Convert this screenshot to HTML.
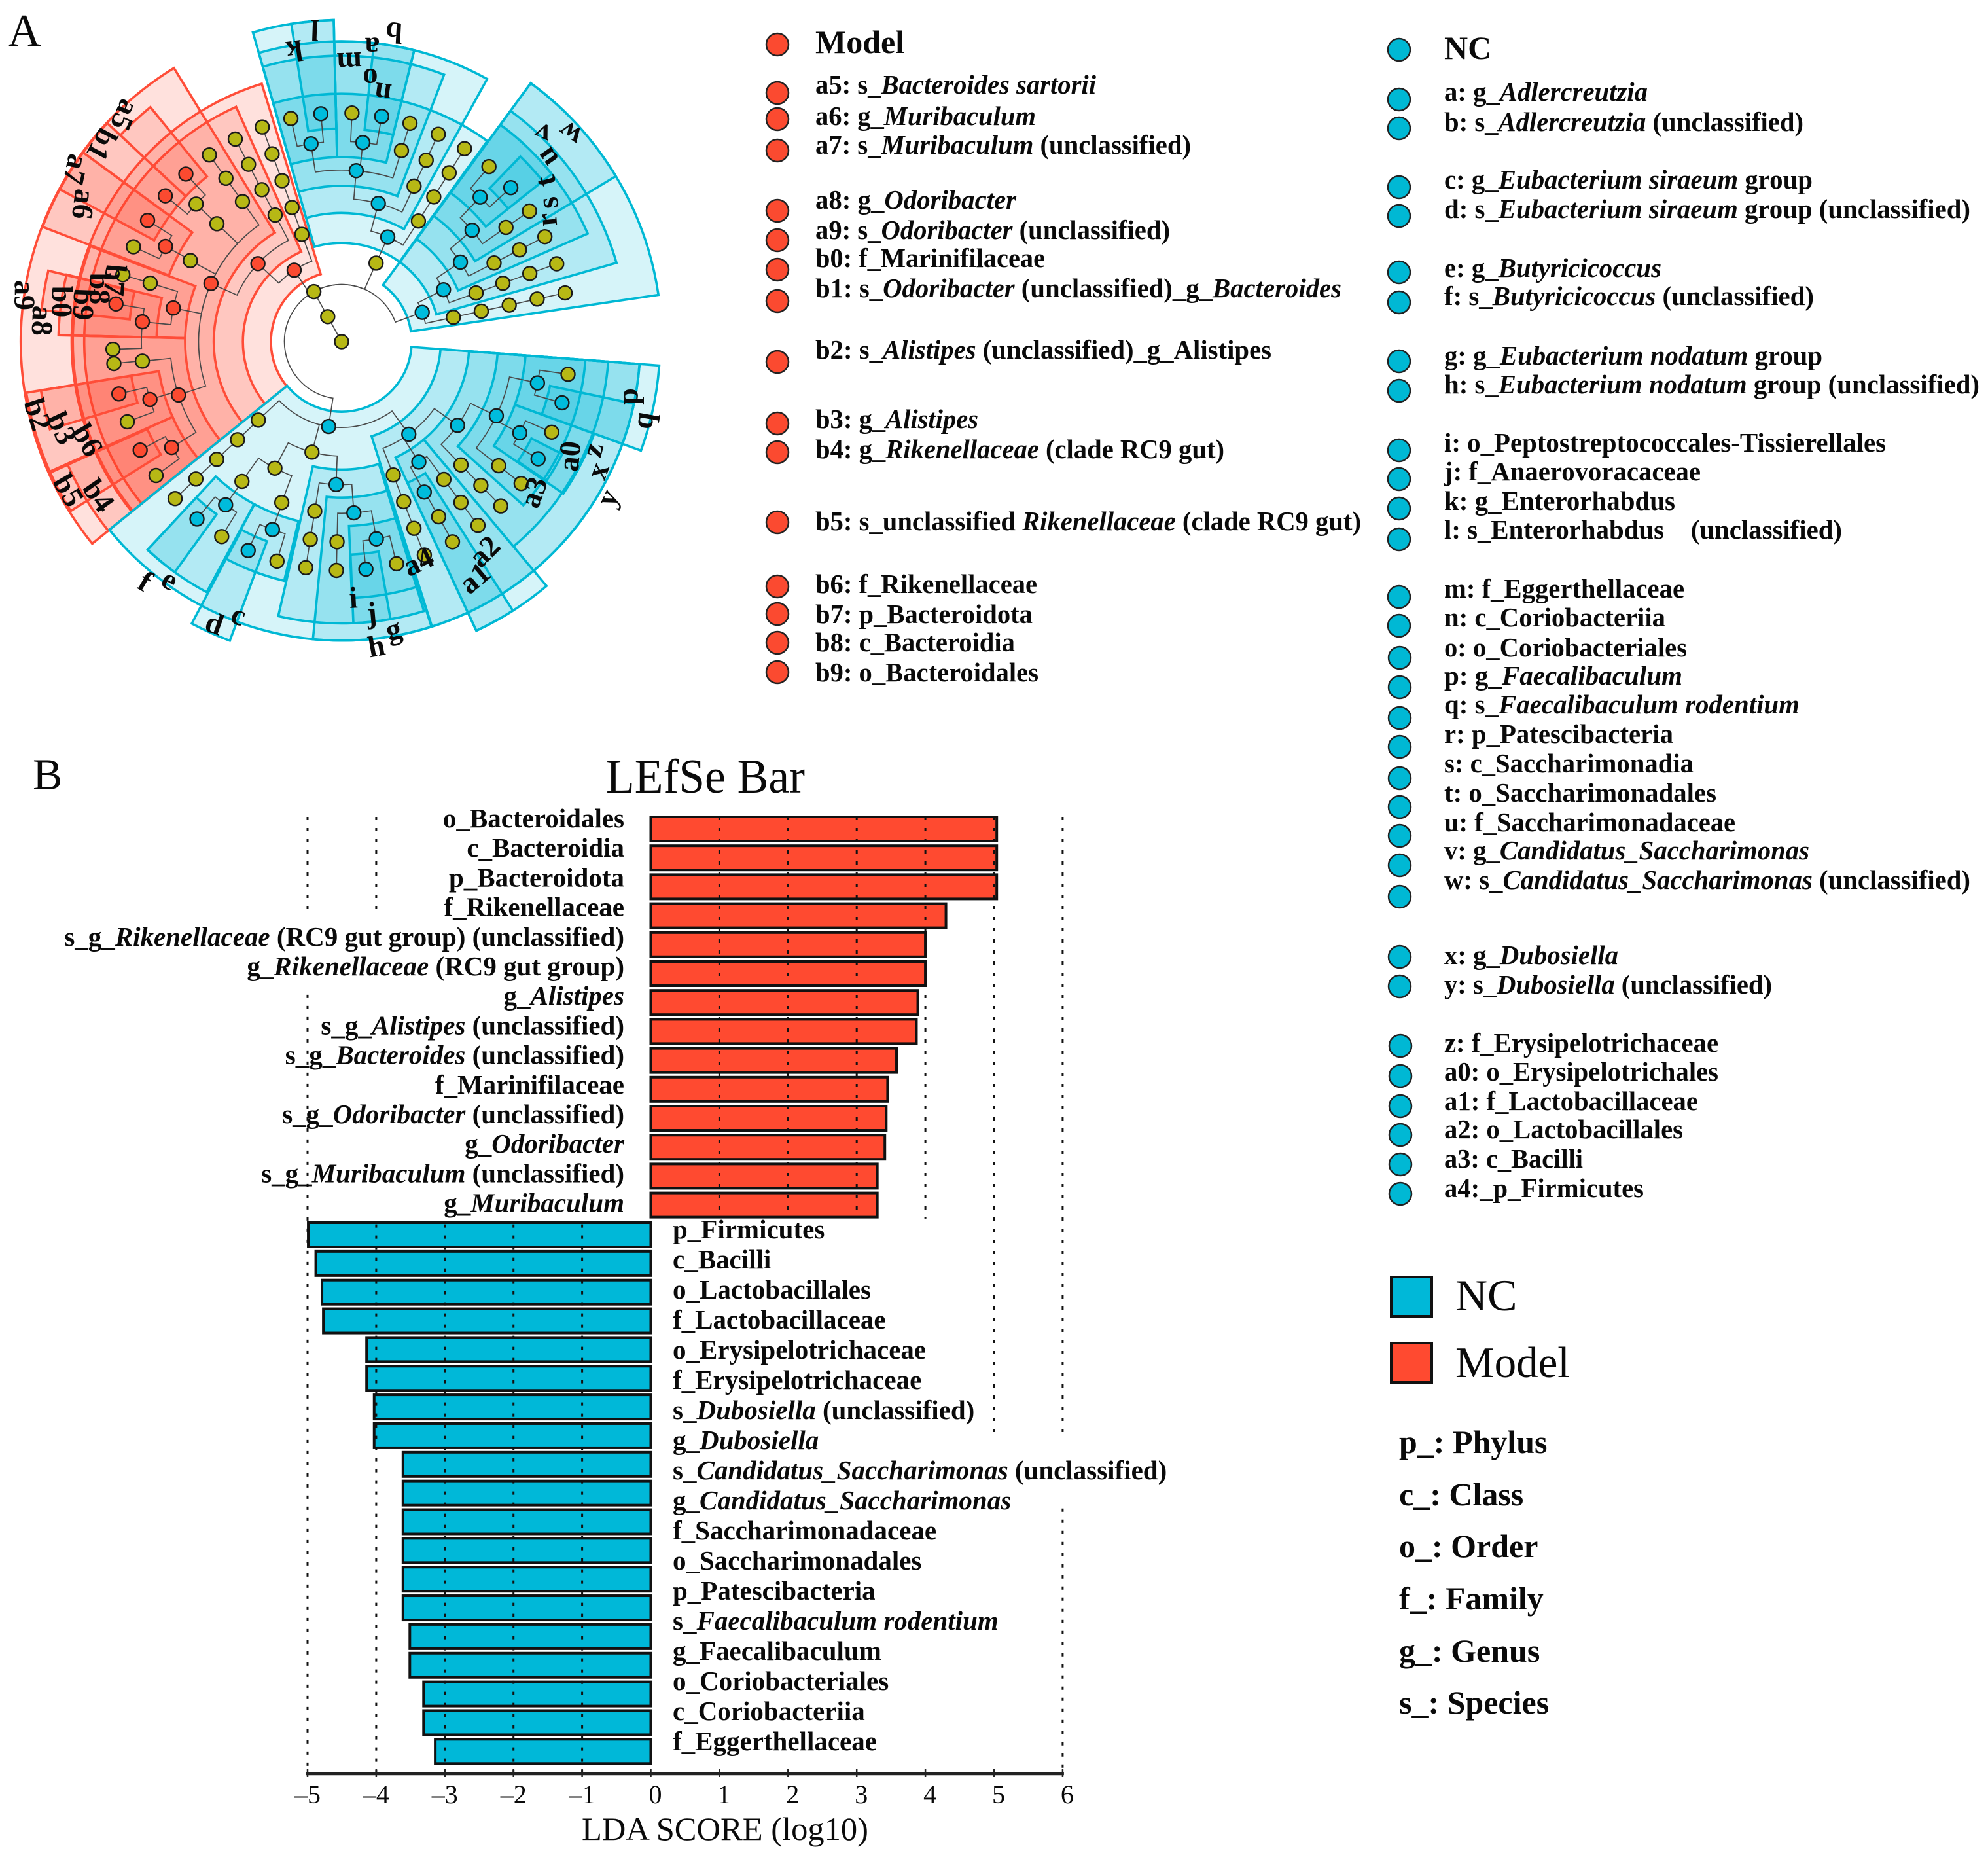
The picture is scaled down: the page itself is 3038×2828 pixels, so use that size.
<!DOCTYPE html>
<html lang="en">
<head>
<meta charset="utf-8">
<title>LEfSe cladogram and LDA bar chart</title>
<style>
html,body{margin:0;padding:0;background:#fff}
svg{display:block}
text{font-family:"Liberation Serif",serif;fill:#0a0a0a}
.lg{font-size:41px;font-weight:bold}
.hd{font-size:50px;font-weight:bold}
.key{font-size:50px;font-weight:bold}
.cl{font-size:46px;font-weight:bold;text-anchor:middle;dominant-baseline:central}
.bl{font-size:41px;font-weight:bold}
.tk{font-size:40px;text-anchor:middle}
tspan.i{font-style:italic}
</style>
</head>
<body>
<svg id="fig" xmlns="http://www.w3.org/2000/svg" width="3038" height="2828" viewBox="0 0 3038 2828">
<rect width="3038" height="2828" fill="#fff"/>
<text x="12" y="70" font-size="70">A</text>
<text x="50" y="1206" font-size="68">B</text>
<g id="wedges"></g>
<g id="branches"></g>
<g id="nodes"></g>
<g>
<text class="cl" transform="translate(602,50) rotate(183)">b</text>
<text class="cl" transform="translate(569,73) rotate(180)">a</text>
<text class="cl" transform="translate(481,46) rotate(182)">l</text>
<text class="cl" transform="translate(450,78) rotate(172)">k</text>
<text class="cl" transform="translate(534,96) rotate(178)">m</text>
<text class="cl" transform="translate(566,121) rotate(180)">o</text>
<text class="cl" transform="translate(585,143) rotate(188)">n</text>
<text class="cl" transform="translate(871,205) rotate(215)">w</text>
<text class="cl" transform="translate(829,205) rotate(205)">v</text>
<text class="cl" transform="translate(835,241) rotate(235)">u</text>
<text class="cl" transform="translate(833,277) rotate(255)">t</text>
<text class="cl" transform="translate(837,310) rotate(262)">s</text>
<text class="cl" transform="translate(835,336) rotate(265)">r</text>
<text class="cl" transform="translate(959,606) rotate(-90)">p</text>
<text class="cl" transform="translate(982,642) rotate(-80)">q</text>
<text class="cl" transform="translate(870,697) rotate(-85)">a0</text>
<text class="cl" transform="translate(905,687) rotate(-75)">z</text>
<text class="cl" transform="translate(913,719) rotate(-70)">x</text>
<text class="cl" transform="translate(928,760) rotate(-65)">y</text>
<text class="cl" transform="translate(815,752) rotate(-70)">a3</text>
<text class="cl" transform="translate(740,842) rotate(-45)">a2</text>
<text class="cl" transform="translate(725,883) rotate(-40)">a1</text>
<text class="cl" transform="translate(639,858) rotate(-25)">a4</text>
<text class="cl" transform="translate(601,961) rotate(-15)">g</text>
<text class="cl" transform="translate(575,987) rotate(-10)">h</text>
<text class="cl" transform="translate(568,936) rotate(-5)">j</text>
<text class="cl" transform="translate(540,913) rotate(-3)">i</text>
<text class="cl" transform="translate(328,952) rotate(20)">d</text>
<text class="cl" transform="translate(365,939) rotate(20)">c</text>
<text class="cl" transform="translate(222,888) rotate(30)">f</text>
<text class="cl" transform="translate(260,885) rotate(30)">e</text>
<text class="cl" transform="translate(105,749) rotate(60)">b5</text>
<text class="cl" transform="translate(151,757) rotate(55)">b4</text>
<text class="cl" transform="translate(134,672) rotate(60)">b6</text>
<text class="cl" transform="translate(95,654) rotate(65)">b3</text>
<text class="cl" transform="translate(58,633) rotate(72)">b2</text>
<text class="cl" transform="translate(191,176) rotate(114)">a5</text>
<text class="cl" transform="translate(156,221) rotate(118)">b1</text>
<text class="cl" transform="translate(116,259) rotate(102)">a7</text>
<text class="cl" transform="translate(128,312) rotate(97)">a6</text>
<text class="cl" transform="translate(38,451) rotate(90)">a9</text>
<text class="cl" transform="translate(65,490) rotate(92)">a8</text>
<text class="cl" transform="translate(95,461) rotate(90)">b0</text>
<text class="cl" transform="translate(128,465) rotate(92)">b9</text>
<text class="cl" transform="translate(153,441) rotate(90)">b8</text>
<text class="cl" transform="translate(176,428) rotate(95)">b7</text>
</g>

<g id="model-legend" fill="#fb4a30" stroke="#222" stroke-width="2.5">
<circle cx="1188" cy="68" r="17"/>
<circle cx="1188" cy="142" r="17"/>
<circle cx="1188" cy="182" r="17"/>
<circle cx="1188" cy="230" r="17"/>
<circle cx="1188" cy="322" r="17"/>
<circle cx="1188" cy="367" r="17"/>
<circle cx="1188" cy="412" r="17"/>
<circle cx="1188" cy="460" r="17"/>
<circle cx="1188" cy="553" r="17"/>
<circle cx="1188" cy="647" r="17"/>
<circle cx="1188" cy="691" r="17"/>
<circle cx="1188" cy="798" r="17"/>
<circle cx="1188" cy="896" r="17"/>
<circle cx="1188" cy="938" r="17"/>
<circle cx="1188" cy="982" r="17"/>
<circle cx="1188" cy="1027" r="17"/>
</g>
<g>
<text class="hd" x="1246" y="81">Model</text>
<text class="lg" x="1246" y="143" textLength="429">a5: s_<tspan class="i">Bacteroides sartorii</tspan></text>
<text class="lg" x="1246" y="191" textLength="337">a6: g_<tspan class="i">Muribaculum</tspan></text>
<text class="lg" x="1246" y="235" textLength="574">a7: s_<tspan class="i">Muribaculum</tspan> (unclassified)</text>
<text class="lg" x="1246" y="319" textLength="307">a8: g_<tspan class="i">Odoribacter</tspan></text>
<text class="lg" x="1246" y="365" textLength="542">a9: s_<tspan class="i">Odoribacter</tspan> (unclassified)</text>
<text class="lg" x="1246" y="408" textLength="351">b0: f_Marinifilaceae</text>
<text class="lg" x="1246" y="454" textLength="804">b1: s_<tspan class="i">Odoribacter</tspan> (unclassified)_g_<tspan class="i">Bacteroides</tspan></text>
<text class="lg" x="1246" y="548" textLength="697">b2: s_<tspan class="i">Alistipes</tspan> (unclassified)_g_Alistipes</text>
<text class="lg" x="1246" y="654" textLength="249">b3: g_<tspan class="i">Alistipes</tspan></text>
<text class="lg" x="1246" y="700" textLength="625">b4: g_<tspan class="i">Rikenellaceae</tspan> (clade RC9 gut)</text>
<text class="lg" x="1246" y="810" textLength="834">b5: s_unclassified <tspan class="i">Rikenellaceae</tspan> (clade RC9 gut)</text>
<text class="lg" x="1246" y="906" textLength="339">b6: f_Rikenellaceae</text>
<text class="lg" x="1246" y="952" textLength="332">b7: p_Bacteroidota</text>
<text class="lg" x="1246" y="995" textLength="305">b8: c_Bacteroidia</text>
<text class="lg" x="1246" y="1041" textLength="341">b9: o_Bacteroidales</text>
</g>

<g id="nc-legend" fill="#00b8d4" stroke="#222" stroke-width="2.5">
<circle cx="2138" cy="76" r="17"/>
<circle cx="2138" cy="152" r="17"/>
<circle cx="2138" cy="196" r="17"/>
<circle cx="2138" cy="286" r="17"/>
<circle cx="2138" cy="330" r="17"/>
<circle cx="2138" cy="416" r="17"/>
<circle cx="2138" cy="462" r="17"/>
<circle cx="2138" cy="552" r="17"/>
<circle cx="2138" cy="597" r="17"/>
<circle cx="2138" cy="688" r="17"/>
<circle cx="2138" cy="732" r="17"/>
<circle cx="2138" cy="777" r="17"/>
<circle cx="2138" cy="824" r="17"/>
<circle cx="2138" cy="912" r="17"/>
<circle cx="2138" cy="956" r="17"/>
<circle cx="2139" cy="1005" r="17"/>
<circle cx="2139" cy="1050" r="17"/>
<circle cx="2139" cy="1097" r="17"/>
<circle cx="2139" cy="1141" r="17"/>
<circle cx="2139" cy="1189" r="17"/>
<circle cx="2139" cy="1233" r="17"/>
<circle cx="2139" cy="1277" r="17"/>
<circle cx="2139" cy="1322" r="17"/>
<circle cx="2139" cy="1370" r="17"/>
<circle cx="2139" cy="1462" r="17"/>
<circle cx="2139" cy="1507" r="17"/>
<circle cx="2140" cy="1598" r="17"/>
<circle cx="2140" cy="1644" r="17"/>
<circle cx="2140" cy="1690" r="17"/>
<circle cx="2140" cy="1734" r="17"/>
<circle cx="2140" cy="1779" r="17"/>
<circle cx="2140" cy="1824" r="17"/>
</g>
<g>
<text class="hd" x="2207" y="90">NC</text>
<text class="lg" x="2207" y="154" textLength="311">a: g_<tspan class="i">Adlercreutzia</tspan></text>
<text class="lg" x="2207" y="200" textLength="549">b: s_<tspan class="i">Adlercreutzia</tspan> (unclassified)</text>
<text class="lg" x="2207" y="288" textLength="563">c: g_<tspan class="i">Eubacterium siraeum</tspan> group</text>
<text class="lg" x="2207" y="333" textLength="804">d: s_<tspan class="i">Eubacterium siraeum</tspan> group (unclassified)</text>
<text class="lg" x="2207" y="423" textLength="332">e: g_<tspan class="i">Butyricicoccus</tspan></text>
<text class="lg" x="2207" y="466" textLength="565">f: s_<tspan class="i">Butyricicoccus</tspan> (unclassified)</text>
<text class="lg" x="2207" y="557" textLength="578">g: g_<tspan class="i">Eubacterium nodatum</tspan> group</text>
<text class="lg" x="2207" y="601" textLength="818">h: s_<tspan class="i">Eubacterium nodatum</tspan> group (unclassified)</text>
<text class="lg" x="2207" y="690" textLength="675">i: o_Peptostreptococcales-Tissierellales</text>
<text class="lg" x="2207" y="734" textLength="392">j: f_Anaerovoracaceae</text>
<text class="lg" x="2207" y="779" textLength="353">k: g_Enterorhabdus</text>
<text class="lg" x="2207" y="823" textLength="608" xml:space="preserve">l: s_Enterorhabdus    (unclassified)</text>
<text class="lg" x="2207" y="913" textLength="367">m: f_Eggerthellaceae</text>
<text class="lg" x="2207" y="957" textLength="338">n: c_Coriobacteriia</text>
<text class="lg" x="2207" y="1003" textLength="371">o: o_Coriobacteriales</text>
<text class="lg" x="2207" y="1046" textLength="364">p: g_<tspan class="i">Faecalibaculum</tspan></text>
<text class="lg" x="2207" y="1090" textLength="543">q: s_<tspan class="i">Faecalibaculum rodentium</tspan></text>
<text class="lg" x="2207" y="1135" textLength="350">r: p_Patescibacteria</text>
<text class="lg" x="2207" y="1180" textLength="381">s: c_Saccharimonadia</text>
<text class="lg" x="2207" y="1225" textLength="416">t: o_Saccharimonadales</text>
<text class="lg" x="2207" y="1270" textLength="445">u: f_Saccharimonadaceae</text>
<text class="lg" x="2207" y="1313" textLength="558">v: g_<tspan class="i">Candidatus_Saccharimonas</tspan></text>
<text class="lg" x="2207" y="1358" textLength="804">w: s_<tspan class="i">Candidatus_Saccharimonas</tspan> (unclassified)</text>
<text class="lg" x="2207" y="1473" textLength="266">x: g_<tspan class="i">Dubosiella</tspan></text>
<text class="lg" x="2207" y="1518" textLength="501">y: s_<tspan class="i">Dubosiella</tspan> (unclassified)</text>
<text class="lg" x="2207" y="1607" textLength="419">z: f_Erysipelotrichaceae</text>
<text class="lg" x="2207" y="1651" textLength="419">a0: o_Erysipelotrichales</text>
<text class="lg" x="2207" y="1696" textLength="388">a1: f_Lactobacillaceae</text>
<text class="lg" x="2207" y="1739" textLength="365">a2: o_Lactobacillales</text>
<text class="lg" x="2207" y="1784" textLength="212">a3: c_Bacilli</text>
<text class="lg" x="2207" y="1829" textLength="305">a4:_p_Firmicutes</text>
</g>

<g>
<rect x="2126" y="1951" width="62" height="60" fill="#00b8d8" stroke="#111" stroke-width="4"/>
<text x="2224" y="2002" font-size="68">NC</text>
<rect x="2126" y="2052" width="62" height="60" fill="#ff4a30" stroke="#111" stroke-width="4"/>
<text x="2224" y="2104" font-size="67">Model</text>
</g>
<g>
<text class="key" x="2138" y="2220">p_: Phylus</text>
<text class="key" x="2138" y="2300">c_: Class</text>
<text class="key" x="2138" y="2379">o_: Order</text>
<text class="key" x="2138" y="2459">f_: Family</text>
<text class="key" x="2138" y="2539">g_: Genus</text>
<text class="key" x="2138" y="2618">s_: Species</text>
</g>

<text x="926" y="1211" font-size="74" textLength="304" lengthAdjust="spacingAndGlyphs">LEfSe Bar</text>
<g id="bars"></g>
<g id="grid"></g>
<g id="barLabels"></g>
<g id="axis"></g>
<text x="889" y="2811" font-size="50" textLength="438" lengthAdjust="spacingAndGlyphs">LDA SCORE (log10)</text>
</svg>

<script>
/* ---------- LDA bar chart data ---------- */
const modelCategories = ["o_Bacteroidales","c_Bacteroidia","p_Bacteroidota","f_Rikenellaceae","s_g_*Rikenellaceae* (RC9 gut group) (unclassified)","g_*Rikenellaceae* (RC9 gut group)","g_*Alistipes*","s_g_*Alistipes* (unclassified)","s_g_*Bacteroides* (unclassified)","f_Marinifilaceae","s_g_*Odoribacter* (unclassified)","g_*Odoribacter*","s_g_*Muribaculum* (unclassified)","g_*Muribaculum*"];
const modelScores = [5.04,5.04,5.04,4.30,4.00,4.00,3.89,3.87,3.58,3.45,3.43,3.41,3.30,3.30];
const ncCategories = ["p_Firmicutes","c_Bacilli","o_Lactobacillales","f_Lactobacillaceae","o_Erysipelotrichaceae","f_Erysipelotrichaceae","s_*Dubosiella* (unclassified)","g_*Dubosiella*","s_*Candidatus_Saccharimonas* (unclassified)","g_*Candidatus_Saccharimonas*","f_Saccharimonadaceae","o_Saccharimonadales","p_Patescibacteria","s_*Faecalibaculum rodentium*","g_Faecalibaculum","o_Coriobacteriales","c_Coriobacteriia","f_Eggerthellaceae"];
const ncScores = [-4.99,-4.88,-4.79,-4.77,-4.14,-4.14,-4.03,-4.03,-3.61,-3.61,-3.61,-3.61,-3.61,-3.61,-3.51,-3.51,-3.31,-3.31,-3.14];
const tickValues = [-5,-4,-3,-2,-1,0,1,2,3,4,5,6];
const tickLabels = ["\u20135","\u20134","\u20133","\u20132","\u20131","0","1","2","3","4","5","6"];

/* ---------- Cladogram data: [id, parent, angle in degrees clockwise from north, kind] ---------- */
const cladeNodes = [
[0,-1,331,"y"],[1,0,331,"y"],[2,1,331,"y"],
[3,2,326.4,"r"],[4,3,313,"r"],[5,3,339.7,"y"],[6,5,339.7,"y"],[7,6,339.7,"y"],[8,7,339.7,"y"],[9,8,339.7,"y"],
[10,4,294,"r"],[11,4,332.3,"y"],[12,11,332.3,"y"],[13,12,332.3,"y"],[14,13,332.3,"y"],
[15,10,281.3,"r"],[16,10,251.9,"r"],[17,10,298.2,"y"],[18,10,324.7,"y"],[19,18,324.7,"y"],[20,19,324.7,"y"],
[21,10,313.4,"y"],[22,21,313.4,"y"],[23,22,309.6,"r"],[24,22,317.1,"r"],
[25,17,298.4,"r"],[26,25,302,"r"],[27,25,294.5,"y"],
[28,15,287,"y"],[29,28,287,"y"],[30,15,275.7,"r"],[31,30,279.5,"r"],[32,30,268.1,"y"],
[33,16,264.4,"y"],[34,33,264.5,"y"],[35,16,253.2,"r"],[36,35,256.8,"r"],[37,35,249.5,"y"],
[38,16,238.1,"r"],[39,38,241.7,"r"],[40,38,234.2,"y"],
[50,2,23.7,"y"],[51,50,23.8,"b"],[52,51,32.5,"y"],[53,52,32.5,"y"],[54,53,32.5,"y"],[55,54,32.5,"y"],
[56,51,14.9,"b"],[57,56,25,"y"],[58,57,25,"y"],[59,58,25,"y"],[60,56,4.9,"b"],[61,60,17.4,"y"],[62,61,17.4,"y"],
[63,60,351.2,"b"],[64,63,347.2,"y"],[65,63,354.8,"b"],[66,60,6.1,"b"],[67,66,2.6,"y"],[68,66,10.1,"b"],
[70,2,70,"b"],[71,70,77.7,"y"],[72,71,77.7,"y"],[73,72,77.7,"y"],[74,73,77.7,"y"],[75,74,77.7,"y"],
[76,70,63,"b"],[77,76,70.1,"y"],[78,77,70.1,"y"],[79,78,70.1,"y"],[80,79,70.1,"y"],
[81,76,56.2,"b"],[82,81,62.7,"y"],[83,82,62.7,"y"],[84,83,62.7,"y"],
[85,81,49.5,"b"],[86,85,55.2,"y"],[87,86,55.2,"y"],[88,85,43.8,"b"],[89,88,47.7,"b"],[90,88,40.1,"y"],
[100,2,188.7,"b"],[101,100,144,"b"],[102,100,195,"y"],[103,100,226.7,"y"],[104,103,226.7,"y"],[105,104,226.7,"y"],[106,105,226.7,"y"],[107,106,226.7,"y"],
[108,101,158.8,"y"],[109,108,158.8,"y"],[110,109,158.8,"y"],[111,110,158.8,"y"],
[112,101,125.8,"b"],[113,101,147.3,"b"],[114,112,115.6,"b"],[115,112,135.9,"y"],[116,115,135.9,"y"],[117,116,135.9,"y"],
[118,113,143.4,"y"],[119,118,143.4,"y"],[120,119,143.4,"y"],[121,113,151.2,"b"],[122,121,151,"y"],[123,122,151,"y"],
[124,114,128.3,"y"],[125,124,128.3,"y"],[126,114,101.9,"b"],[127,126,98.2,"y"],[128,126,105.5,"b"],
[129,114,117.1,"b"],[130,129,113.3,"y"],[131,129,120.8,"b"],
[132,102,182.2,"b"],[133,102,207.8,"y"],[134,133,215.5,"y"],[135,133,200.4,"y"],
[136,134,215.4,"b"],[137,136,219.2,"b"],[138,136,211.6,"y"],[139,135,200.2,"b"],[140,139,204.1,"b"],[141,139,196.4,"y"],
[142,132,189,"y"],[143,142,189,"y"],[144,143,189,"y"],[145,132,175.9,"b"],[146,145,181.3,"y"],[147,146,181.3,"y"],
[148,145,170,"b"],[149,148,173.9,"b"],[150,148,166.1,"y"]
];
/* highlights: [group, start angle, end angle, inner level, outer level] */
const cladeWedges = [
["r",231,342.8,2.47,9.44],["r",231,335.8,3.45,9.0],["r",231,328.5,4.47,11.22],
["r",271.3,290.8,5.47,9.4],["r",231,271.3,5.47,9.4],
["r",291,306.2,6.47,11.2],["r",271.3,283.7,6.47,9.9],["r",246,260.8,6.47,11.17],["r",231,246,6.47,10.5],
["r",298.4,306.2,7.45,11.2],["r",306.2,313,7.45,11.2],["r",313,320.8,7.45,10.58],["r",276,283.6,7.45,10.55],["r",253.3,260.8,7.45,10.65],["r",238,245.8,7.45,11.17],
["b",344,396,3.45,8.67],["b",344,389,4.5,10.5],["b",344,381,5.45,10],["b",344,358.6,6.45,11.25],["b",351,358.6,7.45,11.25],["b",358.6,374,6.45,10.5],["b",366.2,374,7.45,10.5],
["b",36.2,81.6,2.45,11.2],["b",36.2,74,3.45,10],["b",36.2,66.3,4.45,9.4],["b",36.2,58.9,5.45,11.2],["b",36.2,51.4,6.45,9.4],["b",44,51.4,7.45,9],
["b",94.3,231,2.45,10.45],["b",94.3,162.4,3.47,10.45],["b",140,155,4.47,11.15],["b",94.3,140,4.47,9.35],["b",147.5,155,5.45,11.15],["b",94.3,132,5.47,8.55],["b",94.3,110,6.45,11.14],["b",110,124.4,6.45,9.4],["b",117,124.2,7.45,8.66],["b",102,110,7.45,10.45],
["b",163,193,4.47,9.85],["b",162.5,185.5,5.45,10.45],["b",163,177.7,6.45,8.97],["b",170,177.6,7.45,9.85],
["b",208.3,223,6.45,9.95],["b",215.9,223,7.45,9.95],["b",193.5,208.2,6.45,8.6],["b",200.5,208,7.45,11.16]
];

const NS = "http://www.w3.org/2000/svg";
function mk(tag, attrs, parent){
  const e = document.createElementNS(NS, tag);
  for (const k in attrs) e.setAttribute(k, attrs[k]);
  parent.appendChild(e);
  return e;
}

/* Legend lines are fitted to their measured widths by scaling glyphs, not by spacing letters */
document.querySelectorAll("text.lg[textLength]").forEach(function(t){
  t.setAttribute("lengthAdjust", "spacingAndGlyphs");
});

/* ---------- Cladogram ---------- */
const CX = 522, CY = 522, UNIT = 43.7;
function px(a, lvl){ return CX + lvl * UNIT * Math.sin(a * Math.PI / 180); }
function py(a, lvl){ return CY - lvl * UNIT * Math.cos(a * Math.PI / 180); }
const wedgeColors = {r:{fill:"rgba(255,70,45,0.16)",stroke:"#ff4d38"}, b:{fill:"rgba(0,184,216,0.16)",stroke:"#00b8d4"}};
const nodeColors = {y:"#b7b815", r:"#fb4a30", b:"#00bcdc"};

const wedgeLayer = document.getElementById("wedges");
cladeWedges.forEach(function(w){
  const a0 = w[1], a1 = w[2], r0 = w[3], r1 = w[4];
  const d = "M" + px(a0,r0) + " " + py(a0,r0) +
    "L" + px(a0,r1) + " " + py(a0,r1) +
    "A" + (r1*UNIT) + " " + (r1*UNIT) + " 0 0 1 " + px(a1,r1) + " " + py(a1,r1) +
    "L" + px(a1,r0) + " " + py(a1,r0) +
    "A" + (r0*UNIT) + " " + (r0*UNIT) + " 0 0 0 " + px(a0,r0) + " " + py(a0,r0) + "Z";
  const el = mk("path", {d:d, fill:wedgeColors[w[0]].fill, stroke:wedgeColors[w[0]].stroke, "stroke-width":3.6, "stroke-linejoin":"miter"}, wedgeLayer);
  
  
});

const byId = {};
cladeNodes.forEach(function(n){
  const parent = byId[n[1]];
  byId[n[0]] = {id:n[0], a:n[2], kind:n[3], lvl: parent ? parent.lvl + 1 : 0, parent:parent};
});
const branchLayer = document.getElementById("branches");
const nodeLayer = document.getElementById("nodes");
cladeNodes.forEach(function(n){
  const c = byId[n[0]], p = c.parent;
  if (!p) return;
  let diff = c.a - p.a;
  while (diff > 180) diff -= 360;
  while (diff < -180) diff += 360;
  const R = p.lvl * UNIT;
  const d = "M" + px(p.a,p.lvl) + " " + py(p.a,p.lvl) +
    "A" + R + " " + R + " 0 0 " + (diff >= 0 ? 1 : 0) + " " + px(c.a,p.lvl) + " " + py(c.a,p.lvl) +
    "L" + px(c.a,c.lvl) + " " + py(c.a,c.lvl);
  const el = mk("path", {d:d, fill:"none", stroke:"#4a4a4a", "stroke-width":1.7}, branchLayer);
  
  
});
cladeNodes.forEach(function(n){
  const c = byId[n[0]];
  const el = mk("circle", {cx:px(c.a,c.lvl), cy:py(c.a,c.lvl), r:10.5, fill:nodeColors[c.kind], stroke:"#1a1a1a", "stroke-width":2.4}, nodeLayer);
  
  
});

/* ---------- Bars ---------- */
const X0 = 994.5, XUNIT = 104.9;
function xScale(v){ return X0 + v * XUNIT; }
const RED_TOP = 1248, RED_STEP = 44.2, TEAL_TOP = 1868, TEAL_STEP = 43.85, BAR_H = 37;
function rowY(r){ return 1248 + r * 43.85; }
const AXIS_Y = 2710;

const barLayer = document.getElementById("bars");
modelScores.forEach(function(v,i){
  const el = mk("rect", {x:xScale(0), y:RED_TOP+i*RED_STEP, width:xScale(v)-xScale(0), height:BAR_H, fill:"#ff4a30", stroke:"#111", "stroke-width":4}, barLayer);
  
  
});
ncScores.forEach(function(v,i){
  const el = mk("rect", {x:xScale(v), y:TEAL_TOP+i*TEAL_STEP, width:xScale(0)-xScale(v), height:BAR_H, fill:"#00b8d8", stroke:"#111", "stroke-width":4}, barLayer);
  
  
});

/* Visible stretches of each dotted gridline, in bar-row units */
const gridRuns = {"-5":[[0,3.3],[6.2,33.34]],"-4":[[0,3.3],[14.2,33.34]],"-3":[[14.2,33.34]],"-2":[[14.2,33.34]],"-1":[[14.2,33.34]],"1":[[0,13.9]],"2":[[0,13.9]],"3":[[0,13.9]],"4":[[0,14]],"5":[[0,21.5]],"6":[[0,21.5],[24.1,33.34]]};
const gridLayer = document.getElementById("grid");
tickValues.forEach(function(t){
  (gridRuns[t] || []).forEach(function(run){
    const el = mk("line", {x1:xScale(t), x2:xScale(t), y1:rowY(run[0]), y2:rowY(run[1]), stroke:"#111", "stroke-width":3, "stroke-dasharray":"5 12"}, gridLayer);
    
    
  });
});

/* Labels: *...* marks italics */
function fillLabel(node, str){
  str.split("*").forEach(function(part,i){
    if (!part) return;
    const t = document.createElementNS(NS, "tspan");
    if (i % 2) t.setAttribute("class","i");
    t.textContent = part;
    node.appendChild(t);
  });
}
const labelLayer = document.getElementById("barLabels");
modelCategories.forEach(function(s,i){
  const el = mk("text", {class:"bl", x:954, y:1264+i*45.2, "text-anchor":"end"}, labelLayer);
  
  
  fillLabel(el, s);
});
ncCategories.forEach(function(s,i){
  const el = mk("text", {class:"bl", x:1028, y:1892+i*46}, labelLayer);
  
  
  fillLabel(el, s);
});

/* Axis */
const axisLayer = document.getElementById("axis");
const axisLine = mk("line", {x1:xScale(-5)-2, x2:xScale(6)+2, y1:AXIS_Y, y2:AXIS_Y, stroke:"#222", "stroke-width":4.5}, axisLayer);


tickValues.forEach(function(t,i){
  const tick = mk("line", {x1:xScale(t), x2:xScale(t), y1:AXIS_Y-7, y2:AXIS_Y+5, stroke:"#222", "stroke-width":2.5}, axisLayer);
  
  
  const lab = mk("text", {class:"tk", x:xScale(t)+(t>=0?7:0), y:2755}, axisLayer);
  
  
  lab.textContent = tickLabels[i];
});
</script>
</body>
</html>
